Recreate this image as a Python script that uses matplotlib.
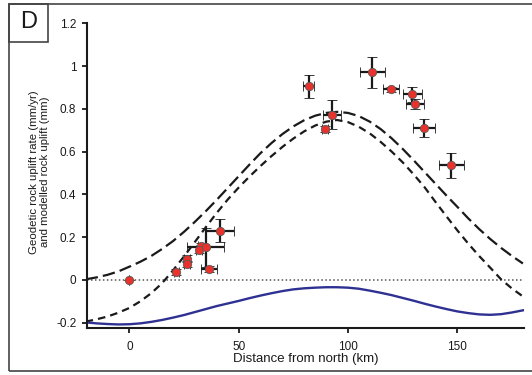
import numpy as np
import matplotlib
matplotlib.use("Agg")
import matplotlib.pyplot as plt
from matplotlib.patches import Rectangle

plt.rcParams['font.family'] = ['Liberation Sans', 'DejaVu Sans']

# geodetic uplift rates: distance (km), rate (mm/yr) and their errors
site_km = [0, 21.5, 26.4, 26.4, 32.9, 31.8, 34.9, 36.4, 41.5,
           82.1, 92.7, 89.4, 111.2, 119.8, 129.4, 130.8, 134.9, 147.3]
site_rate = [0.0, 0.038, 0.10, 0.074, 0.159, 0.139, 0.152, 0.051, 0.231,
             0.905, 0.773, 0.708, 0.97, 0.891, 0.868, 0.822, 0.711, 0.536]
site_km_err = [0, 1.3, 1.3, 1.3, 1.5, 1.5, 8.3, 3.8, 6.4,
               2.5, 4.2, 1.4, 5.9, 3.6, 4.3, 4.1, 5.1, 5.8]
site_rate_err = [0, 0.015, 0.015, 0.015, 0.015, 0.015, 0.09, 0.016, 0.052,
                 0.053, 0.068, 0.014, 0.074, 0.01, 0.035, 0.023, 0.042, 0.059]

# modelled curves every 5 km
model_km = [-20, -15, -10, -5, 0, 5, 10, 15, 20, 25, 30, 35, 40, 45, 50,
            55, 60, 65, 70, 75, 80, 85, 90, 95, 100, 105, 110, 115, 120,
            125, 130, 135, 140, 145, 150, 155, 160, 165, 170, 175, 180]
model_upper = [0.003, 0.012, 0.024, 0.040, 0.062, 0.085, 0.112, 0.145, 0.182,
               0.225, 0.272, 0.322, 0.375, 0.430, 0.485, 0.540, 0.593, 0.640,
               0.682, 0.718, 0.747, 0.768, 0.781, 0.786, 0.781, 0.766, 0.740,
               0.705, 0.662, 0.613, 0.560, 0.505, 0.450, 0.395, 0.342, 0.288,
               0.238, 0.192, 0.150, 0.112, 0.077]
model_lower = [-0.195, -0.184, -0.171, -0.153, -0.131, -0.100, -0.062, -0.015,
               0.045, 0.110, 0.178, 0.247, 0.314, 0.376, 0.432, 0.484, 0.533,
               0.579, 0.622, 0.661, 0.695, 0.722, 0.740, 0.748, 0.738, 0.716,
               0.685, 0.645, 0.600, 0.550, 0.494, 0.434, 0.365, 0.298, 0.232,
               0.170, 0.112, 0.058, 0.003, -0.040, -0.077]
model_blue = [-0.198, -0.203, -0.206, -0.208, -0.207, -0.203, -0.196, -0.187,
              -0.176, -0.164, -0.150, -0.136, -0.122, -0.110, -0.098, -0.085,
              -0.073, -0.062, -0.052, -0.044, -0.039, -0.036, -0.034, -0.034,
              -0.036, -0.041, -0.050, -0.060, -0.071, -0.084, -0.097, -0.111,
              -0.124, -0.136, -0.147, -0.155, -0.161, -0.163, -0.160, -0.152,
              -0.142]

W, H = 532, 375
fig = plt.figure(figsize=(W / 100, H / 100), dpi=100)
ax = fig.add_axes([86.7 / W, 1 - 328.3 / H, (524 - 86.7) / W, (328.3 - 23.3) / H])

ax.axhline(0, color='#555555', lw=1.1, ls=(0, (1, 1.6)), zorder=1)
ax.plot(model_km, model_upper, color='#1a1a1a', lw=1.6, ls=(0, (5.6, 2.3)), zorder=2)
ax.plot(model_km, model_lower, color='#1a1a1a', lw=1.6, ls=(0, (3.4, 2.3)), zorder=2)
ax.plot(model_km, model_blue, color='#2e3192', lw=1.7, zorder=2)

ax.errorbar(site_km, site_rate, xerr=site_km_err, yerr=site_rate_err,
            fmt='o', ms=6, mfc='#e8322b', mec='#5a5a5a', mew=0.6,
            ecolor='#1a1a1a', elinewidth=1.6, capsize=3.3, capthick=1.6, zorder=3)

ax.set_xlim(-19.5, 180.5)
ax.set_ylim(-0.226, 1.2)
ax.set_xticks([0, 50, 100, 150])
ax.set_yticks([-0.2, 0, 0.2, 0.4, 0.6, 0.8, 1, 1.2])
ax.set_yticklabels(['-0.2', '0', '0.2', '0.4', '0.6', '0.8', '1', '1.2'])
for s in ['top', 'right']:
    ax.spines[s].set_visible(False)
for s in ['left', 'bottom']:
    ax.spines[s].set_linewidth(1.5)
    ax.spines[s].set_color('#1a1a1a')
ax.tick_params(direction='out', length=3.5, width=1.3, labelsize=8.5,
               colors='#1a1a1a', pad=4)
ax.tick_params(axis='x', pad=6)

ax.set_xlabel('Distance from north (km)', fontsize=9.5, labelpad=0, color='#1a1a1a')
fig.text(39.5 / W, 1 - 172 / H,
         'Geodetic rock uplift rate (mm/yr)\nand modelled rock uplift (mm)',
         rotation=90, ha='center', va='center', fontsize=8.2, linespacing=1.15,
         color='#1a1a1a')

# outer frame and panel letter
fig.patches.append(Rectangle((8.5 / W, 1 - 370.5 / H), 530 / W, 367 / H,
                             transform=fig.transFigure, fill=False,
                             ec='#444444', lw=1.2))
fig.patches.append(Rectangle((8.5 / W, 1 - 41.5 / H), 39.5 / W, 38 / H,
                             transform=fig.transFigure, fill=False,
                             ec='#444444', lw=1.2))
fig.text(28.5 / W, 1 - 22 / H, 'D', ha='center', va='center', fontsize=17,
         color='#1a1a1a')

fig.savefig('out.png', dpi=100)
